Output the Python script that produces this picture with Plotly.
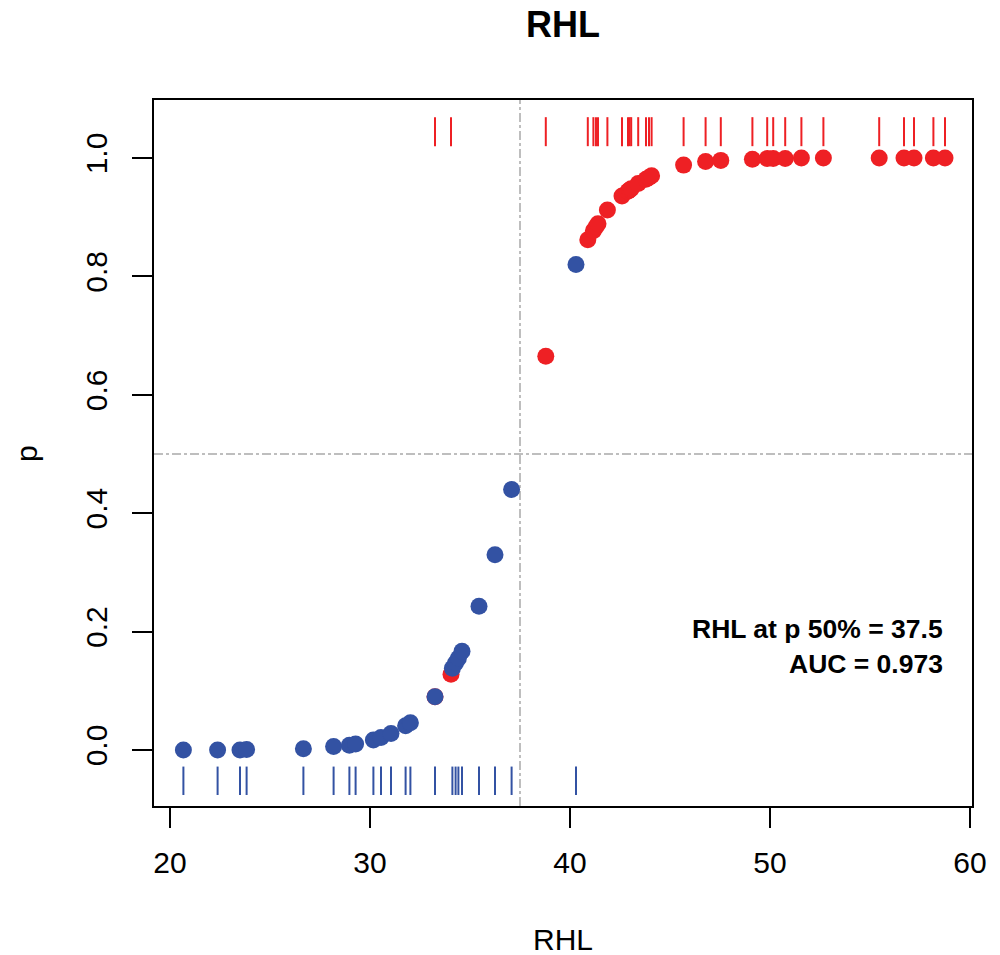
import plotly.graph_objects as go

# ---- data ----
blue_x = [20.67, 22.38, 23.50, 23.83, 26.67, 28.18, 28.97, 29.28, 30.17, 30.55,
          31.05, 31.78, 32.02, 33.25, 34.12, 34.28, 34.42, 34.60, 35.45, 36.25,
          37.08, 40.30]
blue_p = [0.000, 0.000, 0.000, 0.001, 0.002, 0.006, 0.008, 0.010, 0.017, 0.021,
          0.028, 0.041, 0.046, 0.090, 0.138, 0.147, 0.155, 0.167, 0.243, 0.330,
          0.440, 0.820]

red_x = [33.25, 34.05, 38.79, 40.89, 41.17, 41.30, 41.40, 41.87, 42.60, 42.90,
         42.98, 43.06, 43.41, 43.80, 43.95, 44.08, 45.68, 46.78, 47.54, 49.12,
         49.86, 50.16, 50.76, 51.57, 52.67, 55.46, 56.70, 57.20, 58.17, 58.75]
red_p = [0.090, 0.128, 0.665, 0.862, 0.877, 0.884, 0.889, 0.912, 0.936, 0.944,
         0.946, 0.948, 0.957, 0.964, 0.967, 0.970, 0.988, 0.994, 0.996, 0.998,
         0.999, 0.999, 0.999, 1.000, 1.000, 1.000, 1.000, 1.000, 1.000, 1.000]

x_ticks = [20, 30, 40, 50, 60]
y_ticks = [0.0, 0.2, 0.4, 0.6, 0.8, 1.0]

cut_x = 37.5      # RHL at p 50%
cut_p = 0.5
auc = 0.973

title_text = "RHL"
x_label = "RHL"
y_label = "p"

# ---- styling ----
RED = "#EE2024"
BLUE = "#3352A3"
GREY = "#BEBEBE"
FONT = "Liberation Sans, Arial, sans-serif"
bottom_rug = (-0.076, -0.028)
top_rug = (1.020, 1.069)

# the page body adds an 8px margin; size the figure to fit the 1000x955 window
W, H = 992, 947


def rug(xs, lo, hi):
    rx, ry = [], []
    for v in xs:
        rx += [v, v, None]
        ry += [lo, hi, None]
    return rx, ry


fig = go.Figure()

# red points first, blue on top
fig.add_trace(go.Scatter(x=red_x, y=red_p, mode="markers",
                         marker=dict(size=17, color=RED, line=dict(width=0)),
                         showlegend=False, hoverinfo="x+y"))
fig.add_trace(go.Scatter(x=blue_x, y=blue_p, mode="markers",
                         marker=dict(size=17, color=BLUE, line=dict(width=0)),
                         showlegend=False, hoverinfo="x+y"))

rx, ry = rug(red_x, *top_rug)
fig.add_trace(go.Scatter(x=rx, y=ry, mode="lines", line=dict(color=RED, width=2),
                         showlegend=False, hoverinfo="skip"))
bx, by = rug(blue_x, *bottom_rug)
fig.add_trace(go.Scatter(x=bx, y=by, mode="lines", line=dict(color=BLUE, width=2),
                         showlegend=False, hoverinfo="skip"))

# reference lines
fig.add_shape(type="line", xref="x", yref="paper", x0=cut_x, x1=cut_x, y0=0, y1=1,
              line=dict(color=GREY, width=2, dash="dashdot"), layer="below")
fig.add_shape(type="line", xref="paper", yref="y", x0=0, x1=1, y0=cut_p, y1=cut_p,
              line=dict(color=GREY, width=2, dash="dashdot"), layer="below")

# annotations
fig.add_annotation(x=58.75, y=0.204, xref="x", yref="y", xanchor="right", yanchor="middle",
                   text=f"<b>RHL at p 50% = {cut_x}</b>", showarrow=False,
                   font=dict(family=FONT, size=26.5, color="black"))
fig.add_annotation(x=58.75, y=0.145, xref="x", yref="y", xanchor="right", yanchor="middle",
                   text=f"<b>AUC = {auc}</b>", showarrow=False,
                   font=dict(family=FONT, size=26.5, color="black"))

# axis titles
fig.add_annotation(x=0.5, y=-0.1884, xref="paper", yref="paper", xanchor="center",
                   yanchor="middle", text=x_label, showarrow=False,
                   font=dict(family=FONT, size=30, color="black"))
fig.add_annotation(x=-0.1565, y=0.5, xref="paper", yref="paper", xanchor="center",
                   yanchor="middle", text=y_label, textangle=-90, showarrow=False,
                   font=dict(family=FONT, size=30, color="black"))

fig.update_layout(
    width=W, height=H,
    margin=dict(l=146, r=28, t=92, b=149),
    paper_bgcolor="white", plot_bgcolor="white",
    font=dict(family=FONT, color="black"),
    title=dict(text=f"<b>{title_text}</b>", x=0.5, xref="paper", xanchor="center",
               y=1 - 16 / H, yanchor="middle",
               font=dict(family=FONT, size=36, color="black")),
    showlegend=False,
)
fig.update_xaxes(range=[19.2, 60.1], tickvals=x_ticks, ticks="outside", ticklen=20,
                 tickwidth=2, tickcolor="black", showline=True, linewidth=2,
                 linecolor="black", mirror=True, showgrid=False, zeroline=False,
                 ticklabelstandoff=9,
                 tickfont=dict(family=FONT, size=30, color="black"))
fig.update_yaxes(range=[-0.0946, 1.098], tickvals=y_ticks, tickformat=".1f",
                 ticks="outside", ticklen=20, tickwidth=2, tickcolor="black",
                 tickangle=-90, showline=True, linewidth=2, linecolor="black",
                 mirror=True, showgrid=False, zeroline=False,
                 ticklabelstandoff=13,
                 tickfont=dict(family=FONT, size=30, color="black"))

fig.write_html("out.html")
